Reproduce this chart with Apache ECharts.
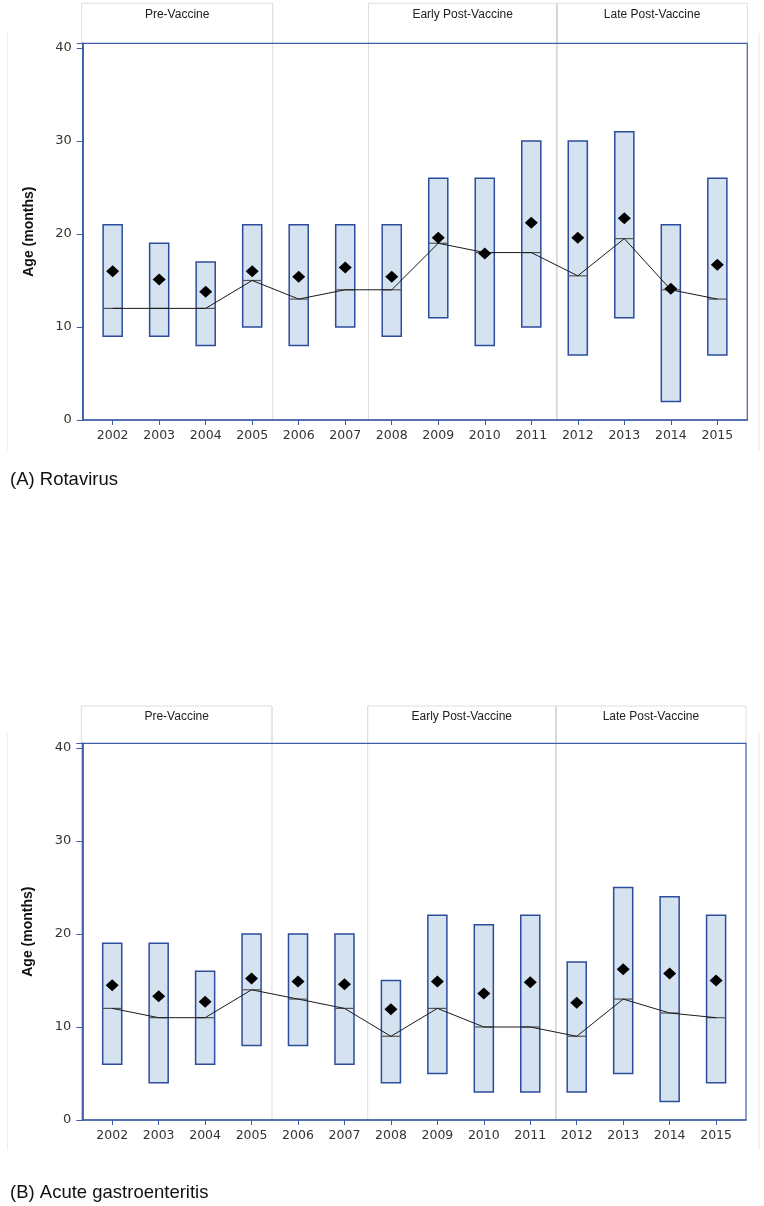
<!DOCTYPE html>
<html>
<head>
<meta charset="utf-8">
<script src="https://cdn.jsdelivr.net/npm/echarts@6/dist/echarts.min.js"></script>
<style>
html,body{margin:0;padding:0;background:#fff;}
#chart{width:764px;height:1206px;}
</style>
</head>
<body>
<div id="chart"></div>
<script>
// ---- data ----
const years = ['2002','2003','2004','2005','2006','2007','2008','2009','2010','2011','2012','2013','2014','2015'];
const periodNames = ['Pre-Vaccine', 'Early Post-Vaccine', 'Late Post-Vaccine'];

const rotaQ1     = [9, 9, 8, 10, 8, 10, 9, 11, 8, 10, 7, 11, 2, 7];
const rotaQ3     = [21, 19, 17, 21, 21, 21, 21, 26, 26, 30, 30, 31, 21, 26];
const rotaMedian = [12, 12, 12, 15, 13, 14, 14, 19, 18, 18, 15.5, 19.5, 14, 13];
const rotaMean   = [16, 15.1, 13.8, 16, 15.4, 16.4, 15.4, 19.6, 17.9, 21.2, 19.6, 21.7, 14.1, 16.7];

const ageQ1      = [6, 4, 6, 8, 8, 6, 4, 5, 3, 3, 3, 5, 2, 4];
const ageQ3      = [19, 19, 16, 20, 20, 20, 15, 22, 21, 22, 17, 25, 24, 22];
const ageMedian  = [12, 11, 11, 14, 13, 12, 9, 12, 10, 10, 9, 13, 11.5, 11];
const ageMean    = [14.5, 13.3, 12.7, 15.2, 14.9, 14.6, 11.9, 14.9, 13.6, 14.8, 12.6, 16.2, 15.75, 15.0];

const yTicks = [0, 10, 20, 30, 40];

// ---- layout / style ----
const BLUE = '#3f5ea8';
const BOXFILL = '#d5e3f1';
const BOXLINE = '#2d4c9c';
const SEP = '#dedede';
const xMin = -0.644, xMax = 13.644;
const separators = [3.44, 5.5, 9.55]; // x positions (category index units) of period dividers

const chart = echarts.init(document.getElementById('chart'), null, {renderer: 'canvas'});

const grids = [
  {left: 82.7, top: 43.3, width: 664.6, height: 376.7},
  {left: 82.3, top: 743.3, width: 663.7, height: 376.7}
];

function xAxisDef(gi) {
  return {
    type: 'value', gridIndex: gi, min: xMin, max: xMax,
    axisLine: {show: true, onZero: false, lineStyle: {color: BLUE, width: 1.5}},
    axisTick: {show: true, length: 5, lineStyle: {color: BLUE, width: 1}, customValues: years.map((_, i) => i)},
    axisLabel: {
      show: true, margin: 9, color: '#333', fontFamily: 'DejaVu Sans', fontSize: 12.5,
      customValues: years.map((_, i) => i),
      formatter: v => years[Math.round(v)]
    },
    splitLine: {show: false}
  };
}
function yAxisDef(gi) {
  return {
    type: 'value', gridIndex: gi, min: 0, max: 40.5, interval: 10,
    name: 'Age (months)', nameLocation: 'middle', nameGap: 47,
    nameTextStyle: {fontFamily: 'Liberation Sans', fontWeight: 'bold', fontSize: 14, color: '#111'},
    axisLine: {show: true, onZero: false, lineStyle: {color: BLUE, width: 1.8}},
    axisTick: {show: true, length: 6, lineStyle: {color: BLUE, width: 1}},
    axisLabel: {show: true, margin: 11, color: '#333', fontFamily: 'DejaVu Sans', fontSize: 13,
      customValues: yTicks},
    splitLine: {show: false}
  };
}

function boxSeries(gi, q1, q3, med) {
  const data = years.map((_, i) => [i, q1[i], q3[i], med[i]]);
  return {
    type: 'custom', xAxisIndex: gi, yAxisIndex: gi, z: 2,
    data: data,
    encode: {x: 0, y: [1, 2]},
    renderItem: function (params, api) {
      const i = api.value(0);
      const lo = api.coord([i, api.value(1)]);
      const hi = api.coord([i, api.value(2)]);
      const md = api.coord([i, api.value(3)]);
      const w = api.size([0.41, 0])[0];
      return {
        type: 'group',
        children: [
          {type: 'rect', shape: {x: lo[0] - w / 2, y: hi[1], width: w, height: lo[1] - hi[1]},
            style: {fill: BOXFILL, stroke: BOXLINE, lineWidth: 1.5}},
          {type: 'line', shape: {x1: lo[0] - w / 2, y1: md[1], x2: lo[0] + w / 2, y2: md[1]},
            style: {stroke: '#555', lineWidth: 1.2}}
        ]
      };
    }
  };
}
function medianLine(gi, med) {
  return {
    type: 'line', xAxisIndex: gi, yAxisIndex: gi, z: 3,
    data: years.map((_, i) => [i, med[i]]),
    symbol: 'none', lineStyle: {color: '#1a1a1a', width: 1}, silent: true
  };
}
function meanSeries(gi, mean) {
  return {
    type: 'scatter', xAxisIndex: gi, yAxisIndex: gi, z: 4,
    data: years.map((_, i) => [i, mean[i]]),
    symbol: 'diamond', symbolSize: [13, 12], itemStyle: {color: '#000', opacity: 1}
  };
}

chart.setOption({
  animation: false,
  backgroundColor: '#fff',
  grid: grids.map(g => Object.assign({show: true, borderColor: BLUE, borderWidth: 1.2, backgroundColor: 'transparent', z: 3}, g)),
  xAxis: [xAxisDef(0), xAxisDef(1)],
  yAxis: [yAxisDef(0), yAxisDef(1)],
  series: [
    boxSeries(0, rotaQ1, rotaQ3, rotaMedian), medianLine(0, rotaMedian), meanSeries(0, rotaMean),
    boxSeries(1, ageQ1, ageQ3, ageMedian), medianLine(1, ageMedian), meanSeries(1, ageMean)
  ]
});

// ---- period headers, dividers, frame and panel captions ----
function panelGraphics(gi, headerTop, captionText, captionY) {
  const g = grids[gi];
  const left = g.left, right = g.left + g.width, top = g.top, bottom = g.top + g.height;
  const sx = separators.map(v => chart.convertToPixel({xAxisIndex: gi}, v));
  const els = [];
  // header boxes (open at the bottom: the plot border closes them)
  const boxes = [[left - 1, sx[0]], [sx[1], sx[2]], [sx[2], right]];
  boxes.forEach((b, k) => {
    els.push({type: 'polyline', z: 0, shape: {points: [[b[0], top], [b[0], headerTop], [b[1], headerTop], [b[1], top]]},
      style: {fill: null, stroke: SEP, lineWidth: 1}});
    els.push({type: 'text', z: 5, style: {x: (b[0] + b[1]) / 2, y: headerTop + 11, text: periodNames[k],
      font: '12px "Liberation Sans"', fill: '#222', align: 'center', verticalAlign: 'middle'}});
  });
  // dividers through the plot
  sx.forEach((x, k) => {
    els.push({type: 'line', z: 0, shape: {x1: x, y1: headerTop, x2: x, y2: bottom},
      style: {stroke: k === 2 ? '#d4d4d4' : SEP, lineWidth: k === 2 ? 1.6 : 1}});
  });
  // faint outer frame
  els.push({type: 'line', z: 0, shape: {x1: 7.5, y1: top - 10, x2: 7.5, y2: bottom + 30}, style: {stroke: '#efefef', lineWidth: 1}});
  els.push({type: 'line', z: 0, shape: {x1: 759, y1: top - 10, x2: 759, y2: bottom + 30}, style: {stroke: '#e8e8e8', lineWidth: 1}});
  // caption
  els.push({type: 'text', z: 5, style: {x: 10, y: captionY, text: captionText,
    font: '18.5px "Liberation Sans"', fill: '#111', align: 'left', verticalAlign: 'middle'}});
  return els;
}

chart.setOption({
  graphic: [].concat(
    panelGraphics(0, 3.3, '(A) Rotavirus', 480),
    panelGraphics(1, 706, '(B) Acute gastroenteritis', 1193)
  )
});
</script>
</body>
</html>
